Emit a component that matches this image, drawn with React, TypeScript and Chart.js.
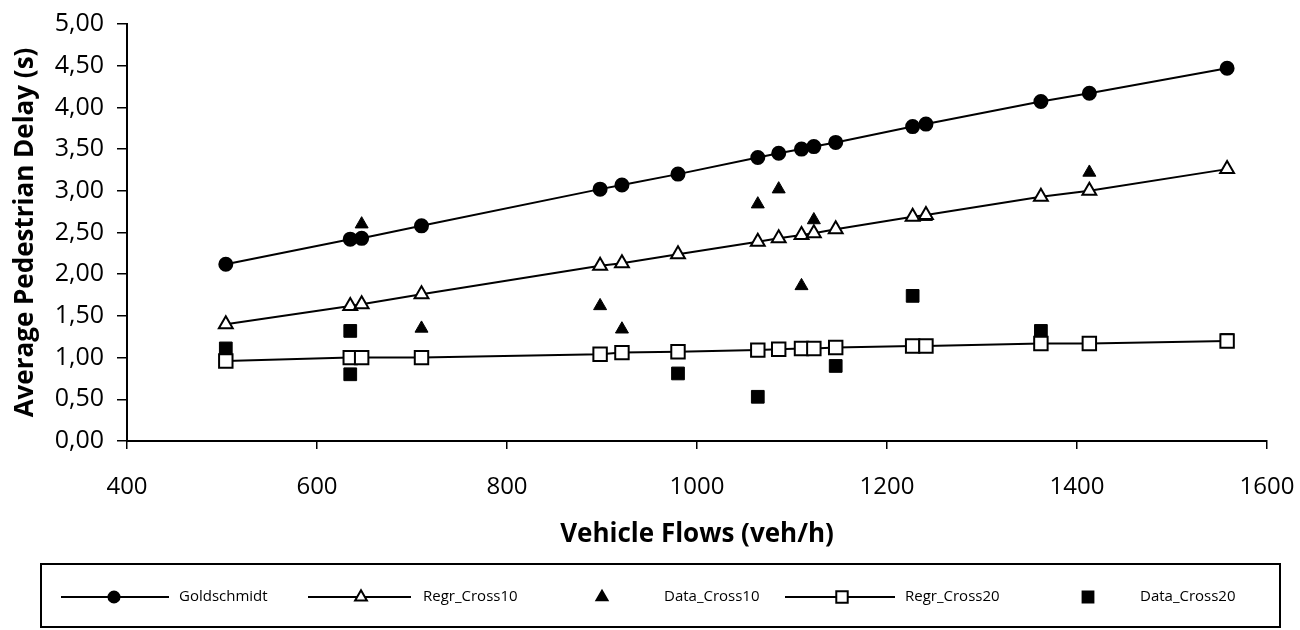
import React, { useEffect, useRef } from 'react';
import { Chart, registerables } from 'chart.js';

Chart.register(...registerables);

// ---- data ----
const flows = [504, 635, 647, 710, 898, 921, 980, 1064, 1086, 1110, 1123, 1146, 1227, 1241, 1362, 1413, 1558];
const goldschmidt = [2.12, 2.42, 2.43, 2.58, 3.02, 3.07, 3.2, 3.4, 3.45, 3.5, 3.53, 3.58, 3.77, 3.8, 4.07, 4.17, 4.47];
const regrCross10 = [1.4, 1.62, 1.64, 1.76, 2.1, 2.13, 2.24, 2.39, 2.43, 2.47, 2.49, 2.54, 2.69, 2.71, 2.93, 3.0, 3.26];
const regrCross20 = [0.96, 1.0, 1.0, 1.0, 1.04, 1.06, 1.07, 1.09, 1.1, 1.11, 1.11, 1.12, 1.14, 1.14, 1.17, 1.17, 1.2];
const dataCross10Flows = [647, 710, 898, 921, 1064, 1086, 1110, 1123, 1241, 1413];
const dataCross10 = [2.6, 1.35, 1.62, 1.34, 2.84, 3.02, 1.86, 2.65, 2.69, 3.22];
const dataCross20Flows = [504, 635, 635, 980, 1064, 1146, 1227, 1362, 1558];
const dataCross20 = [1.11, 1.32, 0.8, 0.81, 0.53, 0.9, 1.74, 1.32, 1.21];

const seriesLabels = ['Goldschmidt', 'Regr_Cross10', 'Data_Cross10', 'Regr_Cross20', 'Data_Cross20'];
const xTitle = 'Vehicle Flows (veh/h)';
const yTitle = 'Average Pedestrian Delay (s)';
const xMin = 400, xMax = 1600, xStep = 200;
const yMin = 0, yMax = 5, yStep = 0.5;

const FONT = '"Open Sans", "DejaVu Sans", sans-serif';

const pts = (xs: number[], ys: number[]) => xs.map((x, i) => ({ x, y: ys[i] }));

function drawMarker(ctx: CanvasRenderingContext2D, style: string, x: number, y: number, r: number, fill: string) {
  ctx.beginPath();
  if (style === 'circle') {
    ctx.arc(x, y, r, 0, Math.PI * 2);
  } else if (style === 'triangle') {
    for (let k = 0; k < 3; k++) {
      const a = (k * 2 * Math.PI) / 3;
      const px = x + Math.sin(a) * r;
      const py = y - Math.cos(a) * r;
      if (k === 0) ctx.moveTo(px, py); else ctx.lineTo(px, py);
    }
    ctx.closePath();
  } else {
    const s = r * Math.SQRT1_2;
    ctx.rect(x - s, y - s, 2 * s, 2 * s);
  }
  ctx.fillStyle = fill;
  ctx.fill();
  ctx.lineWidth = 2;
  ctx.strokeStyle = '#000';
  ctx.stroke();
}

const boxLegend = {
  id: 'boxLegend',
  afterDraw(chart: any) {
    const ctx: CanvasRenderingContext2D = chart.ctx;
    ctx.save();
    ctx.strokeStyle = '#000';
    ctx.lineWidth = 2;
    ctx.strokeRect(41, 564, 1239, 63);
    const cy = 597;
    // layout of the legend entries: [lineStart, lineEnd, markerX, textX]
    const slots = [
      [61, 169, 114, 179],
      [308, 411, 361, 423],
      [null, null, 602, 664],
      [785, 895, 842, 905],
      [null, null, 1088, 1140],
    ];
    chart.data.datasets.forEach((ds: any, i: number) => {
      const [l0, l1, mx, tx] = slots[i] as any[];
      if (l0 !== null) {
        ctx.beginPath();
        ctx.moveTo(l0, cy);
        ctx.lineTo(l1, cy);
        ctx.lineWidth = 2;
        ctx.strokeStyle = '#000';
        ctx.stroke();
      }
      drawMarker(ctx, ds.pointStyle, mx, cy, ds.pointRadius * 0.85, ds.pointBackgroundColor);
      ctx.fillStyle = '#000';
      ctx.font = `15px ${FONT}`;
      ctx.textBaseline = 'middle';
      ctx.textAlign = 'left';
      ctx.fillText(ds.label, tx, cy);
    });
    ctx.restore();
  },
};

export default function App() {
  const ref = useRef<HTMLCanvasElement | null>(null);

  useEffect(() => {
    if (!ref.current) return;
    const lineDs = (label: string, data: any, style: string, r: number, fill: string) => ({
      label,
      data,
      showLine: true,
      borderColor: '#000',
      borderWidth: 2,
      pointStyle: style,
      pointRadius: r,
      pointBackgroundColor: fill,
      pointBorderColor: '#000',
      pointBorderWidth: 2,
      backgroundColor: fill,
    });
    const dotDs = (label: string, data: any, style: string, r: number) => ({
      label,
      data,
      showLine: false,
      pointStyle: style,
      pointRadius: r,
      pointBackgroundColor: '#000',
      pointBorderColor: '#000',
      pointBorderWidth: 1,
      backgroundColor: '#000',
      borderColor: '#000',
    });
    const chart = new Chart(ref.current, {
      type: 'scatter',
      data: {
        datasets: [
          lineDs(seriesLabels[0], pts(flows, goldschmidt), 'circle', 6.5, '#000'),
          lineDs(seriesLabels[1], pts(flows, regrCross10), 'triangle', 8, '#fff'),
          dotDs(seriesLabels[2], pts(dataCross10Flows, dataCross10), 'triangle', 7.5),
          lineDs(seriesLabels[3], pts(flows, regrCross20), 'rect', 9.5, '#fff'),
          dotDs(seriesLabels[4], pts(dataCross20Flows, dataCross20), 'rect', 9),
        ],
      } as any,
      options: {
        responsive: false,
        animation: false,
        layout: { padding: { left: 0, right: 33, top: 24, bottom: 70 } },
        plugins: {
          legend: { display: false },
          tooltip: { enabled: false },
        },
        scales: {
          x: {
            type: 'linear',
            min: xMin,
            max: xMax,
            ticks: {
              stepSize: xStep,
              color: '#000',
              font: { family: FONT, size: 24 },
              padding: 24,
              callback: (v: any) => String(v),
            },
            grid: { drawOnChartArea: false, color: '#000', tickLength: 8, lineWidth: 1.5 },
            border: { color: '#000', width: 2 },
            title: {
              display: true,
              text: xTitle,
              color: '#000',
              font: { family: FONT, size: 26, weight: 'bold' },
              padding: { top: 0, bottom: 10 },
            },
            afterFit: (s: any) => {
              s.height = 119;
              s.paddingLeft = 0;
              s.paddingRight = 0;
            },
          },
          y: {
            type: 'linear',
            min: yMin,
            max: yMax,
            ticks: {
              stepSize: yStep,
              color: '#000',
              font: { family: FONT, size: 25 },
              padding: 13,
              callback: (v: any) => Number(v).toFixed(2).replace('.', ','),
            },
            grid: { drawOnChartArea: false, color: '#000', tickLength: 10, lineWidth: 1.5 },
            border: { color: '#000', width: 2 },
            title: {
              display: true,
              text: yTitle,
              color: '#000',
              font: { family: FONT, size: 26, weight: 'bold' },
              padding: { top: 10, bottom: 0 },
            },
            afterFit: (s: any) => {
              s.width = 127;
              s.paddingTop = 0;
              s.paddingBottom = 0;
            },
          },
        },
      } as any,
      plugins: [boxLegend],
    });
    return () => chart.destroy();
  }, []);

  return (
    <div style={{ position: 'absolute', left: 0, top: 0, width: 1300, height: 630, background: '#fff' }}>
      <canvas ref={ref} width={1300} height={630} style={{ display: 'block' }} />
    </div>
  );
}
